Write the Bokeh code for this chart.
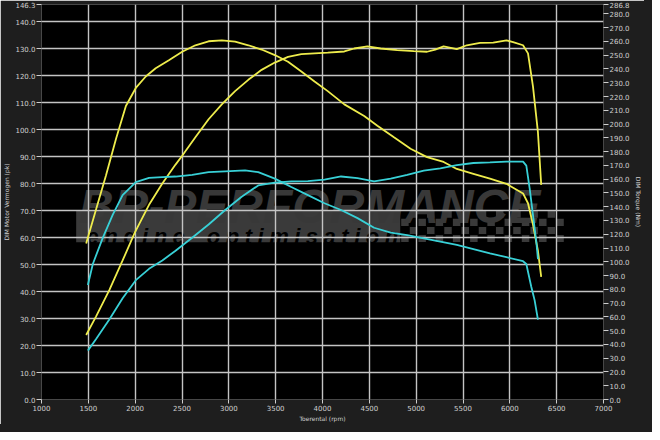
from bokeh.plotting import figure
from bokeh.models import Range1d, LinearAxis, FixedTicker, PrintfTickFormatter, Label, BoxAnnotation
from bokeh.embed import file_html
from bokeh.resources import INLINE

# ---------------- data ----------------
x_ticks = [1000, 1500, 2000, 2500, 3000, 3500, 4000, 4500, 5000, 5500, 6000, 6500, 7000]
x_grid = [1500, 2000, 2500, 3000, 3500, 4000, 4500, 5000, 5500, 6000, 6500]
power_ticks = [0, 10, 20, 30, 40, 50, 60, 70, 80, 90, 100, 110, 120, 130, 140, 146.3]
power_grid = [10, 20, 30, 40, 50, 60, 70, 80, 90, 100, 110, 120, 130, 140]
torque_ticks = [0, 10, 20, 30, 40, 50, 60, 70, 80, 90, 100, 110, 120, 130, 140, 150, 160, 170, 180,
                190, 200, 210, 220, 230, 240, 250, 260, 270, 280, 286.8]

tuned_rpm_power = [1477, 1583, 1724, 1866, 1996, 2148, 2290, 2360, 2431, 2502, 2643, 2784, 2925, 3067,
                   3208, 3350, 3491, 3632, 3774, 3915, 4056, 4233, 4339, 4480, 4621, 4798, 4975, 5116,
                   5204, 5293, 5434, 5540, 5682, 5823, 5964, 6035, 6141, 6194, 6247, 6300, 6335]
tuned_power = [23.9, 30.8, 40.5, 51.5, 61.8, 72.1, 80.0, 83.5, 87.0, 90.3, 97.1, 103.8, 109.3, 114.2,
               118.4, 122.1, 124.8, 126.9, 127.9, 128.2, 128.5, 128.9, 130.0, 130.8, 130.0, 129.4, 129.0, 128.8,
               129.6, 130.8, 129.8, 131.2, 132.1, 132.2, 133.0, 132.4, 131.2, 128.2, 116.0, 99.0, 79.5]

tuned_rpm_torque = [1477, 1583, 1689, 1795, 1901, 2007, 2113, 2219, 2360, 2502, 2643, 2784, 2925, 3067,
                    3208, 3350, 3491, 3632, 3774, 3915, 4056, 4233, 4445, 4586, 4763, 4940, 5116, 5293,
                    5434, 5611, 5788, 5964, 6141, 6194, 6247, 6300, 6335]
tuned_torque = [113.3, 138.2, 162.9, 189.2, 213.1, 226.2, 234.5, 240.5, 246.4, 252.5, 257.2, 260.1, 260.7, 259.8,
                257.2, 254.1, 250.1, 245.2, 238.2, 230.9, 223.9, 214.3, 205.8, 198.8, 190.4, 182.1, 176.0, 172.5,
                167.4, 163.9, 160.4, 156.6, 149.6, 142.5, 127.0, 108.0, 89.0]

stock_rpm_power = [1495, 1583, 1724, 1866, 2007, 2148, 2290, 2431, 2608, 2784, 2961, 3137, 3314, 3491,
                   3667, 3844, 4021, 4198, 4374, 4551, 4728, 4904, 5081, 5258, 5434, 5611, 5788, 5964,
                   6141, 6176, 6212, 6247, 6282, 6300]
stock_power = [18.1, 22.4, 29.6, 37.5, 44.2, 48.4, 51.5, 55.1, 59.9, 64.8, 70.2, 75.1, 79.3, 80.3,
               80.8, 80.9, 81.4, 82.6, 82.0, 80.8, 81.8, 83.2, 84.8, 85.6, 86.8, 87.6, 87.8, 88.1,
               88.1, 86.6, 78.1, 68.4, 58.7, 52.0]

stock_rpm_torque = [1495, 1548, 1654, 1760, 1866, 2007, 2148, 2290, 2431, 2608, 2784, 2961, 3173, 3314,
                    3491, 3667, 3844, 4021, 4198, 4374, 4551, 4728, 4904, 5081, 5258, 5434, 5611, 5788,
                    5964, 6141, 6176, 6229, 6264, 6300]
stock_torque = [83.1, 98.4, 117.4, 134.1, 148.4, 157.8, 160.9, 161.5, 161.9, 163.1, 165.1, 165.7, 166.4, 165.1,
                160.4, 154.3, 148.4, 142.5, 137.6, 131.7, 124.7, 121.2, 119.4, 117.0, 114.7, 112.3, 109.2, 106.1,
                103.3, 100.4, 98.4, 81.9, 72.3, 58.0]

# ---------------- style ----------------
YELLOW = "#eeec4c"
CYAN = "#38d0d6"
TXT = "#cfcfcf"
FONT = "DejaVu Sans"

p = figure(width=644, height=424,
           x_range=Range1d(1000, 7000), y_range=Range1d(0, 146.3),
           output_backend="svg", toolbar_location=None,
           min_border_left=37, min_border_right=41, min_border_top=4, min_border_bottom=24,
           background_fill_color="#000000", border_fill_color="#1e1e1e",
           outline_line_color=None)
p.styles = {"box-shadow": "0 0 0 8px #1e1e1e"}
p.extra_y_ranges = {"torque": Range1d(0, 286.8)}

right = LinearAxis(y_range_name="torque")
p.add_layout(right, "right")

p.xaxis.ticker = FixedTicker(ticks=x_ticks)
p.xaxis.formatter = PrintfTickFormatter(format="%d")
p.yaxis[0].ticker = FixedTicker(ticks=power_ticks)
right.ticker = FixedTicker(ticks=torque_ticks)
p.yaxis[0].formatter = PrintfTickFormatter(format="%.1f")
right.formatter = PrintfTickFormatter(format="%.1f")

p.xaxis.axis_label = "Toerental (rpm)"
p.yaxis[0].axis_label = "DIM Motor Vermogen (pk)"
right.axis_label = "DIM Torque (Nm)"

for ax in [p.xaxis[0], p.yaxis[0], right]:
    ax.axis_line_color = None
    ax.major_tick_line_color = TXT
    ax.major_tick_out = 5
    ax.major_tick_in = 0
    ax.minor_tick_line_color = None
    ax.major_label_text_color = TXT
    ax.major_label_text_font = FONT
    ax.major_label_text_font_size = "7px"
    ax.major_label_standoff = 1
    ax.axis_label_text_color = TXT
    ax.axis_label_text_font = FONT
    ax.axis_label_text_font_size = "6px"
    ax.axis_label_text_font_style = "normal"
    ax.axis_label_standoff = 2
p.xaxis[0].major_tick_out = 4
p.xaxis[0].axis_label_standoff = 1

p.xgrid.ticker = FixedTicker(ticks=x_grid)
p.ygrid.ticker = FixedTicker(ticks=power_grid)
for g in [p.xgrid[0], p.ygrid[0]]:
    g.grid_line_color = "#c4c4c4"
    g.grid_line_width = 1.4

# ---------------- watermark ----------------
band = BoxAnnotation(left=1370, right=4830, bottom=58.2, top=69.8,
                     fill_color="#3a3a3a", fill_alpha=1.0, line_color=None, level="image")
p.add_layout(band)

cx, cy = [], []
for i in range(19):
    for j in range(4):
        if (i + j) % 2 == 0:
            cx.append(4880 + i * 92)
            cy.append(59.6 + j * 3.0)
p.rect(x=cx, y=cy, width=80, height=2.6, fill_color="#3a3a3a", line_color=None, level="image")

logo = Label(x=1400, y=71.4, text="BR-PERFORMANCE", text_font="Liberation Sans",
             text_font_style="bold italic", text_font_size="48px", text_color="#383838",
             text_baseline="alphabetic", level="image")
p.add_layout(logo)
gap = "\u2005"
sub_text = gap.join("engine") + "\u2003" + gap.join("optimisation")
sub = Label(x=1480, y=60.3, text=sub_text, text_font="Liberation Sans",
            text_font_style="bold italic", text_font_size="22px", text_color="#000000",
            text_baseline="alphabetic", level="image")
p.add_layout(sub)

# ---------------- curves ----------------
p.line(tuned_rpm_torque, tuned_torque, y_range_name="torque", line_color=YELLOW, line_width=1.8)
p.line(tuned_rpm_power, tuned_power, line_color=YELLOW, line_width=1.8)
p.line(stock_rpm_torque, stock_torque, y_range_name="torque", line_color=CYAN, line_width=1.8)
p.line(stock_rpm_power, stock_power, line_color=CYAN, line_width=1.8)

open("out.html", "w").write(file_html(p, INLINE))
